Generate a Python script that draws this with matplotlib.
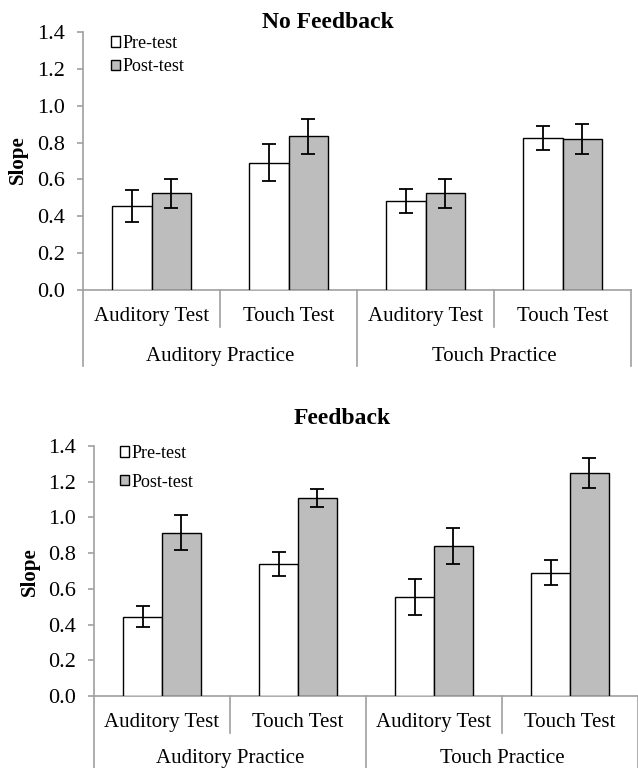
import matplotlib
matplotlib.use("Agg")
import matplotlib.pyplot as plt
import matplotlib.transforms as mtransforms
from matplotlib.patches import Patch
import numpy as np

plt.rcParams['font.family'] = ['Liberation Serif', 'DejaVu Serif']

tests = ["Auditory Test", "Touch Test", "Auditory Test", "Touch Test"]
practices = ["Auditory Practice", "Touch Practice"]
series = ["Pre-test", "Post-test"]

# No Feedback
nf_pre = [0.455, 0.69, 0.485, 0.825]
nf_pre_err = [0.085, 0.10, 0.065, 0.065]
nf_post = [0.525, 0.835, 0.525, 0.82]
nf_post_err = [0.08, 0.095, 0.08, 0.08]

# Feedback
fb_pre = [0.445, 0.74, 0.555, 0.69]
fb_pre_err = [0.06, 0.068, 0.10, 0.07]
fb_post = [0.915, 1.108, 0.84, 1.25]
fb_post_err = [0.10, 0.052, 0.10, 0.083]

W, H = 638, 768
GRAY = '#a0a0a0'
POST = '#bdbdbd'


def draw_panel(fig, rect, pre, pre_err, post, post_err, title, title_xy,
               ylab_xy, leg_xy, leg_space, rows):
    ax = fig.add_axes(rect)
    x = np.arange(len(tests))
    w = 0.285
    ax.bar(x - w / 2, pre, w, color='white', edgecolor='black', lw=1,
           yerr=pre_err, capsize=5, error_kw=dict(lw=1.3, capthick=1.3),
           label=series[0], zorder=3)
    ax.bar(x + w / 2, post, w, color=POST, edgecolor='black', lw=1,
           yerr=post_err, capsize=5, error_kw=dict(lw=1.3, capthick=1.3),
           label=series[1], zorder=3)
    ax.set_xlim(-0.5, 3.5)
    ax.set_ylim(0, 1.4)
    ax.set_yticks(np.arange(0, 1.41, 0.2))
    ax.set_yticklabels(["%.1f" % v for v in np.arange(0, 1.41, 0.2)])
    ax.set_xticks([])
    for s in ['top', 'right']:
        ax.spines[s].set_visible(False)
    for s in ['left', 'bottom']:
        ax.spines[s].set_color(GRAY)
        ax.spines[s].set_linewidth(1.2)
    ax.tick_params(axis='y', colors=GRAY, labelcolor='black', labelsize=16,
                   length=4, width=1.2, pad=9)

    sub_y, grp_y, sub_bot, grp_bot = rows
    tr = mtransforms.blended_transform_factory(ax.transData, ax.transAxes)
    for i, t in enumerate(tests):
        ax.text(i, sub_y, t, transform=tr, ha='center', va='baseline', fontsize=15)
    for j, p in enumerate(practices):
        ax.text(2 * j + 0.5, grp_y, p, transform=tr, ha='center', va='baseline', fontsize=15)
    for xs in [0.5, 2.5]:
        ax.plot([xs, xs], [0, sub_bot], transform=tr, color=GRAY, lw=1.2, clip_on=False)
    for xs in [-0.5, 1.5, 3.5]:
        ax.plot([xs, xs], [0, grp_bot], transform=tr, color=GRAY, lw=1.2, clip_on=False)

    fig.text(title_xy[0] / W, 1 - title_xy[1] / H, title, ha='center', va='center',
             fontsize=17, fontweight='bold')
    fig.text(ylab_xy[0] / W, 1 - ylab_xy[1] / H, "Slope", ha='center', va='center',
             rotation=90, fontsize=15, fontweight='bold')

    handles = [Patch(facecolor='white', edgecolor='black', lw=1),
               Patch(facecolor=POST, edgecolor='black', lw=1)]
    ax.legend(handles, series, loc='upper left',
              bbox_to_anchor=(leg_xy[0] / W, 1 - leg_xy[1] / H),
              bbox_transform=fig.transFigure, frameon=False, fontsize=13,
              handlelength=0.5, handleheight=0.5, handletextpad=0.15,
              borderpad=0, borderaxespad=0, labelspacing=leg_space)
    return ax


fig = plt.figure(figsize=(W / 100, H / 100), dpi=100)

# top panel: x 83..631, y 32..290 px
draw_panel(fig, [83 / W, 1 - 290 / H, 548 / W, 258 / H],
           nf_pre, nf_pre_err, nf_post, nf_post_err,
           "No Feedback", (328, 22), (18, 160), (111, 35), 0.35,
           (-0.120, -0.275, -0.143, -0.295))

# bottom panel: x 94..638, y 446..696 px
draw_panel(fig, [94 / W, 1 - 696 / H, 544 / W, 250 / H],
           fb_pre, fb_pre_err, fb_post, fb_post_err,
           "Feedback", (342, 418), (30, 572), (120, 445), 0.65,
           (-0.124, -0.268, -0.148, -0.30))

fig.savefig("out.png", dpi=100)
